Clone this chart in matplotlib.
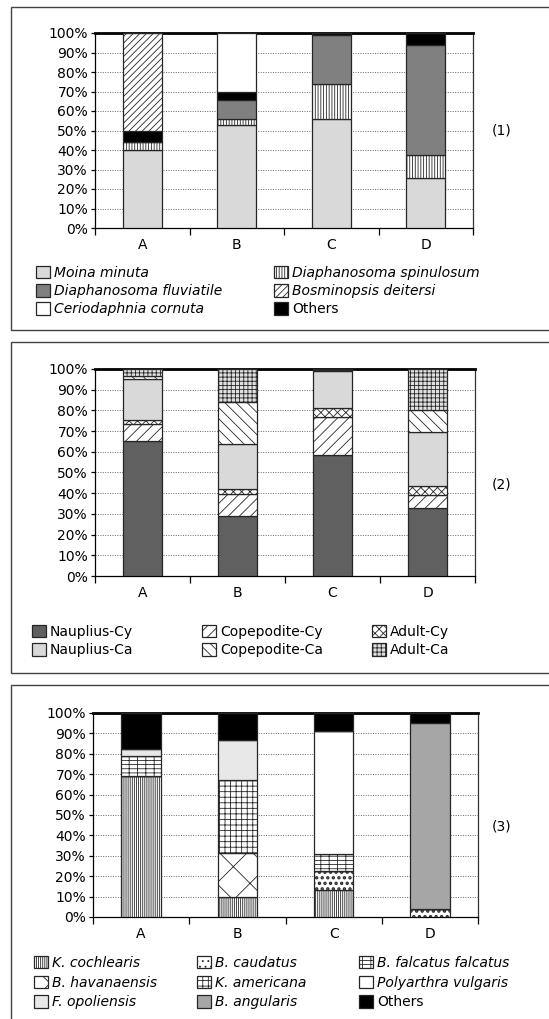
import matplotlib
matplotlib.use('Agg')
import matplotlib.pyplot as plt
import numpy as np
from matplotlib.patches import Rectangle, Patch

plt.rcParams['font.family'] = ['DejaVu Sans']
plt.rcParams['hatch.linewidth'] = 0.6

SITES = ['A', 'B', 'C', 'D']

# Panel 1: Cladocera (% composition, stacked bottom to top)
CLAD_NAMES = ['Moina minuta', 'Diaphanosoma spinulosum', 'Diaphanosoma fluviatile',
              'Others', 'Bosminopsis deitersi', 'Ceriodaphnia cornuta']
CLAD_VALUES = [
    [40.0, 53.0, 56.0, 25.5],
    [4.0, 3.0, 18.0, 12.0],
    [0.0, 9.5, 25.0, 56.5],
    [6.0, 4.5, 1.0, 6.0],
    [50.0, 0.0, 0.0, 0.0],
    [0.0, 30.0, 0.0, 0.0],
]

# Panel 2: Copepoda stages
COP_NAMES = ['Nauplius-Cy', 'Copepodite-Cy', 'Adult-Cy',
             'Nauplius-Ca', 'Copepodite-Ca', 'Adult-Ca']
COP_VALUES = [
    [65.0, 29.0, 58.5, 33.0],
    [8.5, 10.5, 18.5, 6.0],
    [2.0, 2.5, 4.0, 4.5],
    [19.5, 22.0, 18.2, 26.0],
    [1.5, 20.0, 0.4, 10.5],
    [3.5, 16.0, 0.4, 20.0],
]

# Panel 3: Rotifera
ROT_NAMES = ['K. cochlearis', 'B. caudatus', 'B. havanaensis', 'K. americana',
             'B. falcatus falcatus', 'Polyarthra vulgaris', 'F. opoliensis',
             'B. angularis', 'Others']
ROT_VALUES = [
    [69.0, 10.0, 13.0, 0.0],
    [0.0, 0.0, 9.5, 4.0],
    [0.0, 21.5, 0.0, 0.0],
    [0.0, 35.5, 0.0, 0.0],
    [10.0, 0.0, 8.5, 0.0],
    [0.0, 0.0, 60.0, 0.0],
    [3.5, 20.0, 0.0, 0.0],
    [0.0, 0.0, 0.0, 91.0],
    [17.5, 13.0, 9.0, 5.0],
]

# styles: (facecolor, hatch, italic, hatch linewidth)
CLAD_STYLE = {
    'Moina minuta': ('#d9d9d9', None, True, 0.6),
    'Diaphanosoma spinulosum': ('white', '||||||', True, 0.6),
    'Diaphanosoma fluviatile': ('#808080', None, True, 0.6),
    'Others': ('black', None, False, 0.6),
    'Bosminopsis deitersi': ('white', '/////', True, 0.6),
    'Ceriodaphnia cornuta': ('white', None, True, 0.6),
}
COP_STYLE = {
    'Nauplius-Cy': ('#606060', None, False, 0.6),
    'Copepodite-Cy': ('white', '///', False, 0.6),
    'Adult-Cy': ('white', 'xxxx', False, 0.6),
    'Nauplius-Ca': ('#d9d9d9', None, False, 0.6),
    'Copepodite-Ca': ('white', '\\\\\\', False, 0.6),
    'Adult-Ca': ('#e0e0e0', '++++', False, 0.6),
}
ROT_STYLE = {
    'K. cochlearis': ('white', '||||||||', True, 0.6),
    'B. caudatus': ('white', '...', True, 1.6),
    'B. havanaensis': ('white', 'x', True, 0.6),
    'K. americana': ('white', '+++', True, 0.6),
    'B. falcatus falcatus': ('white', '++--', True, 0.6),
    'Polyarthra vulgaris': ('white', None, True, 0.6),
    'F. opoliensis': ('#e8e8e8', None, True, 0.6),
    'B. angularis': ('#a6a6a6', None, True, 0.6),
    'Others': ('black', None, False, 0.6),
}

W, H = 549, 1019
fig = plt.figure(figsize=(W / 100, H / 100), dpi=100)


def fx(px):
    return px / W


def fy(py):
    return 1 - py / H


def panel_box(top, bottom):
    fig.patches.append(Rectangle((fx(11), fy(bottom)), 1.2, fy(top) - fy(bottom),
                                 transform=fig.transFigure, fill=False,
                                 edgecolor='#444444', lw=1.0))


def stacked(ax, names, values, style):
    x = np.arange(len(SITES))
    bottom = np.zeros(len(SITES))
    handles = {}
    for name, vals in zip(names, values):
        fc, hatch, _, hlw = style[name]
        vals = np.array(vals)
        with plt.rc_context({'hatch.linewidth': hlw}):
            ax.bar(x, vals, 0.41, bottom=bottom, color=fc, hatch=hatch,
                   edgecolor='#262626', linewidth=0.9, zorder=3)
            handles[name] = Patch(facecolor=fc, hatch=hatch, edgecolor='#262626',
                                  linewidth=0.9)
        bottom += vals
    ax.set_xlim(-0.5, len(SITES) - 0.5)
    ax.set_ylim(0, 100)
    ax.set_yticks(np.arange(0, 101, 10))
    ax.set_yticklabels([f'{v}%' for v in range(0, 101, 10)], fontsize=10)
    ax.set_xticks(x)
    ax.set_xticklabels(SITES, fontsize=10)
    ax.set_xticks(np.arange(-0.5, len(SITES)), minor=True)
    ax.tick_params(axis='x', which='major', length=0, pad=7)
    ax.tick_params(axis='x', which='minor', length=5, width=0.9, direction='out')
    ax.tick_params(axis='y', length=3, width=0.9, pad=2)
    for g in range(10, 100, 10):
        ax.axhline(g, color='#666666', lw=0.7, ls=(0, (1, 1.5)), zorder=1)
    ax.spines['top'].set_linewidth(2.0)
    for side in ['left', 'bottom', 'right']:
        ax.spines[side].set_linewidth(0.9)
    ax.spines['right'].set_color('#333333')
    return handles


def legend_columns(handles, style, columns, xs, ytop, size, spacing):
    for col, xpx in zip(columns, xs):
        hs = [handles[n] for n in col]
        lg = fig.legend(hs, col, loc='upper left', frameon=False,
                        bbox_to_anchor=(fx(xpx), fy(ytop)),
                        bbox_transform=fig.transFigure, fontsize=size,
                        handlelength=1.0, handleheight=1.0, handletextpad=0.3,
                        labelspacing=spacing, borderpad=0, borderaxespad=0)
        for t, n in zip(lg.get_texts(), col):
            if style[n][2]:
                t.set_fontstyle('italic')


# panel 1
panel_box(7, 330)
ax1 = fig.add_axes([fx(95), fy(228), fx(473) - fx(95), fy(33) - fy(228)])
h1 = stacked(ax1, CLAD_NAMES, CLAD_VALUES, CLAD_STYLE)
fig.text(fx(502), fy(131), '(1)', fontsize=10, ha='center', va='center')
legend_columns(h1, CLAD_STYLE,
               [['Moina minuta', 'Diaphanosoma fluviatile', 'Ceriodaphnia cornuta'],
                ['Diaphanosoma spinulosum', 'Bosminopsis deitersi', 'Others']],
               [36, 274], 266, 10, 0.3)

# panel 2
panel_box(342, 673)
ax2 = fig.add_axes([fx(95), fy(576), fx(475) - fx(95), fy(369) - fy(576)])
h2 = stacked(ax2, COP_NAMES, COP_VALUES, COP_STYLE)
fig.text(fx(502), fy(485), '(2)', fontsize=10, ha='center', va='center')
legend_columns(h2, COP_STYLE,
               [['Nauplius-Cy', 'Nauplius-Ca'],
                ['Copepodite-Cy', 'Copepodite-Ca'],
                ['Adult-Cy', 'Adult-Ca']],
               [32, 202, 372], 625, 10, 0.3)

# panel 3
panel_box(685, 1030)
ax3 = fig.add_axes([fx(93), fy(917), fx(478) - fx(93), fy(713) - fy(917)])
h3 = stacked(ax3, ROT_NAMES, ROT_VALUES, ROT_STYLE)
fig.text(fx(502), fy(827), '(3)', fontsize=10, ha='center', va='center')
legend_columns(h3, ROT_STYLE,
               [['K. cochlearis', 'B. havanaensis', 'F. opoliensis'],
                ['B. caudatus', 'K. americana', 'B. angularis'],
                ['B. falcatus falcatus', 'Polyarthra vulgaris', 'Others']],
               [34, 197, 359], 956, 10, 0.4)

fig.savefig('out.png', dpi=100)
